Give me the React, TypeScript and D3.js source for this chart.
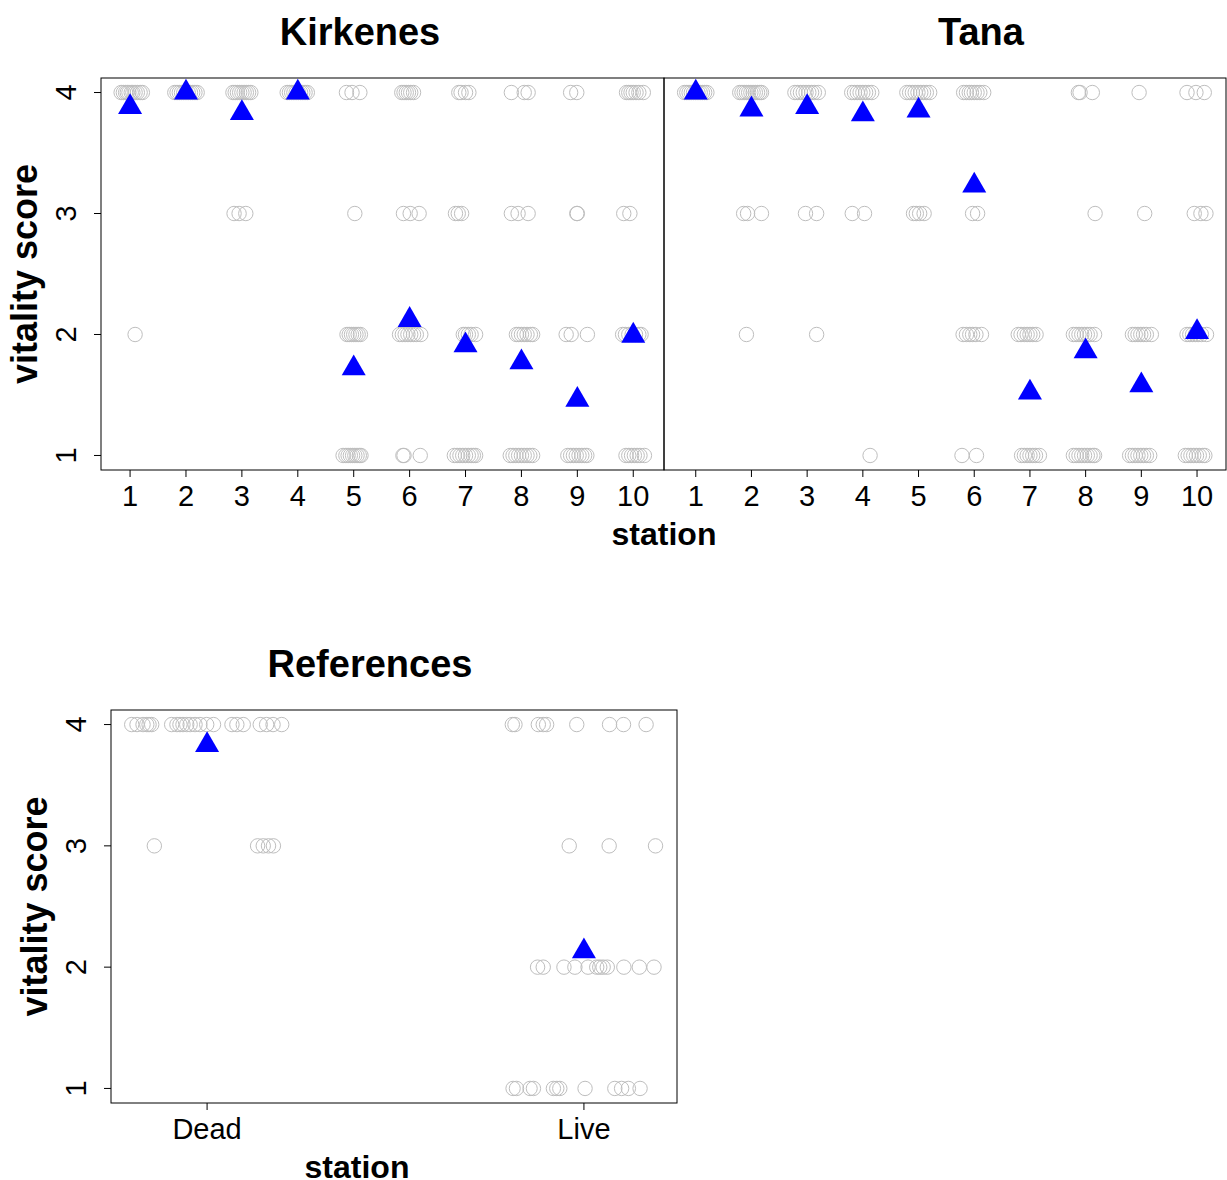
import React, { useEffect, useRef } from 'react'
import * as d3 from 'd3'

const stations = [1, 2, 3, 4, 5, 6, 7, 8, 9, 10]
const scoreTicks = [1, 2, 3, 4]
const refLabels = ['Dead', 'Live']

// jittered station positions, one array per vitality score
const kirkenes4 = [
  0.84, 0.88, 0.92, 0.95, 0.98, 1.02, 1.05, 1.09, 1.13, 1.18, 1.22,
  1.8, 1.84, 1.88, 1.92, 1.96, 2.0, 2.04, 2.08, 2.12, 2.16, 2.2,
  2.84, 2.88, 2.92, 2.96, 3.0, 3.04, 3.08, 3.12, 3.16,
  3.81, 3.85, 3.89, 3.93, 3.97, 4.01, 4.05, 4.09, 4.13, 4.17,
  4.87, 4.97, 5.11,
  5.86, 5.9, 5.94, 5.98, 6.02, 6.07,
  6.88, 6.92, 7.0, 7.06,
  7.82, 8.05, 8.12,
  8.88, 8.99,
  9.88, 9.92, 9.96, 10.0, 10.05, 10.1, 10.18,
]
const kirkenes3 = [
  2.86, 2.95, 3.07, 5.02, 5.89, 6.01, 6.17, 6.82, 6.87, 6.93,
  7.82, 7.94, 8.12, 8.99, 9.0, 9.83, 9.94,
]
const kirkenes2 = [
  1.09,
  4.88, 4.92, 4.96, 5.0, 5.04, 5.08, 5.12,
  5.82, 5.87, 5.92, 5.97, 6.02, 6.07, 6.12, 6.2,
  6.96, 7.0, 7.05, 7.1, 7.18,
  7.91, 7.95, 8.0, 8.05, 8.1, 8.16, 8.2,
  8.8, 8.89, 9.18,
  9.81, 9.86, 9.92, 9.98, 10.04, 10.1, 10.14,
]
const kirkenes1 = [
  4.81, 4.86, 4.9, 4.94, 4.98, 5.02, 5.06, 5.1, 5.13,
  5.88, 5.9, 6.19,
  6.8, 6.85, 6.9, 6.95, 7.0, 7.05, 7.1, 7.14, 7.18,
  7.8, 7.85, 7.9, 7.95, 8.0, 8.05, 8.1, 8.15, 8.2,
  8.83, 8.88, 8.93, 8.98, 9.03, 9.08, 9.13, 9.17,
  9.87, 9.92, 9.97, 10.02, 10.07, 10.12, 10.2,
]
const kirkenesMeans = [3.88, 4.0, 3.83, 4.0, 1.72, 2.12, 1.91, 1.77, 1.46, 1.99]

const tana4 = [
  0.8, 0.84, 0.88, 0.92, 0.96, 1.0, 1.04, 1.08, 1.12, 1.16, 1.2,
  1.79, 1.83, 1.87, 1.91, 1.95, 1.99, 2.03, 2.07, 2.11, 2.15, 2.18,
  2.78, 2.83, 2.88, 2.93, 2.98, 3.03, 3.08, 3.13, 3.2,
  3.8, 3.85, 3.9, 3.95, 4.0, 4.05, 4.1, 4.16,
  4.79, 4.84, 4.89, 4.94, 4.99, 5.04, 5.09, 5.14, 5.2,
  5.81, 5.86, 5.91, 5.95, 6.0, 6.05, 6.1, 6.17,
  7.87, 7.9, 8.12,
  8.96,
  9.82, 9.98, 10.13,
]
const tana3 = [
  1.86, 1.93, 2.18, 2.97, 3.17, 3.81, 4.03, 4.91, 4.96, 5.02, 5.1,
  5.97, 6.06, 8.17, 9.06, 9.95, 10.07, 10.16,
]
const tana2 = [
  1.91, 3.17,
  5.8, 5.86, 5.92, 5.97, 6.03, 6.13,
  6.79, 6.84, 6.9, 6.95, 7.0, 7.05, 7.11,
  7.78, 7.83, 7.88, 7.93, 7.98, 8.03, 8.08, 8.16,
  8.84, 8.89, 8.94, 8.99, 9.04, 9.09, 9.18,
  9.82, 9.87, 9.92, 9.97, 10.02, 10.08, 10.17,
]
const tana1 = [
  4.13, 5.78, 6.04,
  6.85, 6.9, 6.95, 7.0, 7.05, 7.1, 7.17,
  7.78, 7.83, 7.88, 7.93, 7.98, 8.03, 8.08, 8.13, 8.16,
  8.79, 8.84, 8.89, 8.94, 8.99, 9.04, 9.09, 9.15,
  9.79, 9.84, 9.89, 9.94, 9.99, 10.04, 10.1, 10.14,
]
const tanaMeans = [4.0, 3.86, 3.88, 3.82, 3.85, 3.23, 1.52, 1.86, 1.58, 2.02]

// 1 = Dead, 2 = Live
const ref4 = [
  0.8, 0.814, 0.83, 0.84, 0.846, 0.853, 0.906, 0.92, 0.928, 0.936, 0.946, 0.955,
  0.968, 0.981, 0.999, 1.017, 1.066, 1.079, 1.096, 1.141, 1.158, 1.175, 1.198,
  1.81, 1.817, 1.879, 1.892, 1.901, 1.981, 2.068, 2.105, 2.165,
]
const ref3 = [0.86, 1.134, 1.149, 1.163, 1.176, 1.961, 2.067, 2.19]
const ref2 = [
  1.877, 1.892, 1.947, 1.976, 2.011, 2.034, 2.042, 2.051, 2.062, 2.106, 2.147, 2.186,
]
const ref1 = [
  1.812, 1.821, 1.857, 1.866, 1.919, 1.928, 1.936, 2.003, 2.082, 2.1, 2.118, 2.149,
]
const refMeans = [3.83, 2.13]

const FONT = "'Liberation Sans', Arial, Helvetica, sans-serif"

const toPoints = (groups: number[][]) =>
  groups.flatMap((xs, i) => xs.map(x => ({ x, y: 4 - i })))

const drawPanel = (svg: any, p: any) => {
  const x = d3.scaleLinear().domain(p.xDomain).range([p.left, p.right])
  const y = d3.scaleLinear().domain([0.88, 4.12]).range([p.bottom, p.top])
  const g = svg.append('g')

  g.selectAll('circle')
    .data(p.points)
    .enter()
    .append('circle')
    .attr('cx', d => x(d.x))
    .attr('cy', d => y(d.y))
    .attr('r', 7.2)
    .attr('fill', 'none')
    .attr('stroke', '#bebebe')
    .attr('stroke-width', 1)

  const tri = d3.symbol().type(d3.symbolTriangle).size(250)
  g.selectAll('path.mean')
    .data(p.means)
    .enter()
    .append('path')
    .attr('class', 'mean')
    .attr('d', tri)
    .attr('transform', (d, i) => `translate(${x(p.ticks[i])},${y(d)})`)
    .attr('fill', '#0000ff')

  g.append('rect')
    .attr('x', p.left)
    .attr('y', p.top)
    .attr('width', p.right - p.left)
    .attr('height', p.bottom - p.top)
    .attr('fill', 'none')
    .attr('stroke', '#000')
    .attr('stroke-width', 1)

  // x axis
  const xa = g.append('g').attr('transform', `translate(0,${p.bottom})`)
  xa.selectAll('line')
    .data(p.ticks)
    .enter()
    .append('line')
    .attr('x1', d => x(d))
    .attr('x2', d => x(d))
    .attr('y1', 0)
    .attr('y2', 7)
    .attr('stroke', '#000')
  xa.selectAll('text')
    .data(p.ticks)
    .enter()
    .append('text')
    .attr('x', d => x(d))
    .attr('y', 36)
    .attr('text-anchor', 'middle')
    .attr('font-family', FONT)
    .attr('font-size', 29)
    .text((d, i) => p.tickLabels[i])

  if (p.yAxis) {
    const ya = g.append('g').attr('transform', `translate(${p.left},0)`)
    ya.selectAll('line')
      .data(scoreTicks)
      .enter()
      .append('line')
      .attr('x1', 0)
      .attr('x2', -7)
      .attr('y1', d => y(d))
      .attr('y2', d => y(d))
      .attr('stroke', '#000')
    ya.selectAll('text')
      .data(scoreTicks)
      .enter()
      .append('text')
      .attr('transform', d => `translate(-25,${y(d)}) rotate(-90)`)
      .attr('text-anchor', 'middle')
      .attr('font-family', FONT)
      .attr('font-size', 29)
      .text(d => d)
    g.append('text')
      .attr('transform', `translate(${p.left - 64},${(p.top + p.bottom) / 2}) rotate(-90)`)
      .attr('text-anchor', 'middle')
      .attr('font-family', FONT)
      .attr('font-weight', 'bold')
      .attr('font-size', 36)
      .text('vitality score')
  }

  g.append('text')
    .attr('x', p.titleX)
    .attr('y', p.top - 33)
    .attr('text-anchor', 'middle')
    .attr('font-family', FONT)
    .attr('font-weight', 'bold')
    .attr('font-size', 38)
    .text(p.title)

  if (p.xLabelX) {
    g.append('text')
      .attr('x', p.xLabelX)
      .attr('y', p.bottom + 75)
      .attr('text-anchor', 'middle')
      .attr('font-family', FONT)
      .attr('font-weight', 'bold')
      .attr('font-size', 32)
      .text('station')
  }
}

export default function App() {
  const ref = useRef<SVGSVGElement>(null)

  useEffect(() => {
    const svg = d3.select(ref.current)
    svg.selectAll('*').remove()

    drawPanel(svg, {
      title: 'Kirkenes', titleX: 360,
      left: 101, right: 664, top: 78, bottom: 470,
      xDomain: [0.48, 10.55],
      points: toPoints([kirkenes4, kirkenes3, kirkenes2, kirkenes1]),
      means: kirkenesMeans, ticks: stations, tickLabels: stations.map(String),
      yAxis: true, xLabelX: 664,
    })
    drawPanel(svg, {
      title: 'Tana', titleX: 981,
      left: 664, right: 1226, top: 78, bottom: 470,
      xDomain: [0.43, 10.52],
      points: toPoints([tana4, tana3, tana2, tana1]),
      means: tanaMeans, ticks: stations, tickLabels: stations.map(String),
      yAxis: false,
    })
    drawPanel(svg, {
      title: 'References', titleX: 370,
      left: 111, right: 677, top: 710, bottom: 1103,
      xDomain: [0.745, 2.247],
      points: toPoints([ref4, ref3, ref2, ref1]),
      means: refMeans, ticks: [1, 2], tickLabels: refLabels,
      yAxis: true, xLabelX: 357,
    })
  }, [])

  return (
    <svg
      ref={ref}
      width={1227}
      height={1180}
      style={{ position: 'absolute', left: 0, top: 0, background: '#fff' }}
    />
  )
}
